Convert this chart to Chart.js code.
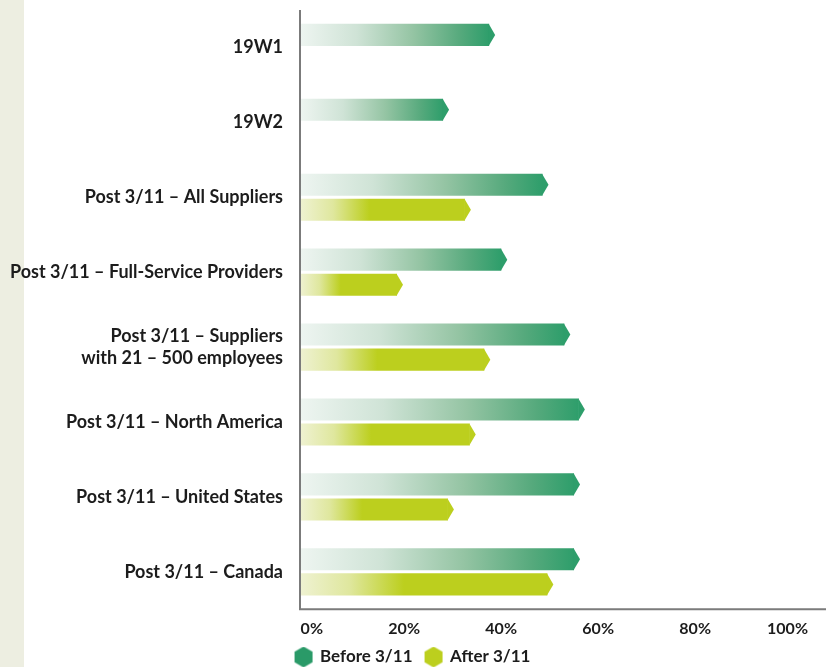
<!DOCTYPE html>
<html>
<head>
<meta charset="utf-8">
<script src="https://cdn.jsdelivr.net/npm/chart.js@4.4.1/dist/chart.umd.min.js"></script>
<style>
  html, body { margin: 0; padding: 0; }
  body { background: linear-gradient(to right, #edeee1 0, #edeee1 24px, #ffffff 24px); }
  #wrap { width: 826px; height: 667px; position: relative; }
</style>
</head>
<body>
<div id="wrap"><canvas id="myChart"></canvas></div>
<script>
const ctx = document.getElementById('myChart');

// data
const categorias = [
  '19W1',
  '19W2',
  'Post 3/11 – All Suppliers',
  'Post 3/11 – Full-Service Providers',
  ['Post 3/11 – Suppliers', 'with 21 – 500 employees'],
  'Post 3/11 – North America',
  'Post 3/11 – United States',
  'Post 3/11 – Canada'
]
const antes = [39, 29.5, 50, 41.5, 54.5, 57.5, 56.5, 56.5]
const despues = [null, null, 34, 20, 38, 35, 30.5, 51]
const ticksX = [0, 20, 40, 60, 80, 100]

const verde = '#2e9e6b'
const amarillo = '#bccf1e'
const fuente = "'Lato', 'Liberation Sans', sans-serif"

// hexagon used as legend marker
function hexagono(color){
  const c = document.createElement('canvas')
  c.width = 20
  c.height = 21
  const g = c.getContext('2d')
  g.fillStyle = color
  g.beginPath()
  for (let i = 0; i < 6; i++) {
    const a = Math.PI / 180 * (60 * i - 90)
    const px = 10 + 10.4 * Math.cos(a)
    const py = 10.5 + 10.4 * Math.sin(a)
    if (i === 0) g.moveTo(px, py); else g.lineTo(px, py)
  }
  g.closePath()
  g.fill()
  return c
}

function degradado(context, stops, solido){
  const chart = context.chart
  if (!chart.chartArea || context.raw == null) return solido
  const x0 = chart.scales.x.getPixelForValue(0)
  const x1 = chart.scales.x.getPixelForValue(context.raw)
  if (x1 - x0 < 1) return solido
  const gr = chart.ctx.createLinearGradient(x0, 0, x1, 0)
  for (const s of stops) gr.addColorStop(s[0], s[1])
  return gr
}

const stopsVerde = [[0, '#eef5f1'], [0.3, '#cfe3d6'], [0.6, '#94c4a3'], [0.85, '#55a97c'], [1, verde]]
const stopsAmarillo = [[0, '#eff2d2'], [0.2, '#dfe79e'], [0.42, amarillo], [1, amarillo]]

// arrow tips + axis lines
const puntas = {
  id: 'puntas',
  afterDatasetsDraw(chart){
    const c = chart.ctx
    chart.data.datasets.forEach(function(ds, i){
      const meta = chart.getDatasetMeta(i)
      meta.data.forEach(function(bar, j){
        if (ds.data[j] == null) return
        const h = bar.height / 2
        c.save()
        c.fillStyle = ds.tipColor
        c.beginPath()
        c.moveTo(bar.x - 0.5, bar.y - h)
        c.lineTo(bar.x + 6, bar.y)
        c.lineTo(bar.x - 0.5, bar.y + h)
        c.closePath()
        c.fill()
        c.restore()
      })
    })
    const a = chart.chartArea
    c.save()
    c.strokeStyle = '#7b7b7b'
    c.lineWidth = 2
    c.beginPath()
    c.moveTo(a.left, a.top)
    c.lineTo(a.left, a.bottom)
    c.lineTo(a.right, a.bottom)
    c.stroke()
    c.restore()
  }
}

new Chart(ctx, {
  type: 'bar',
  data: {
    labels: categorias,
    datasets: [{
      label: 'Before 3/11',
      data: antes,
      tipColor: verde,
      backgroundColor: function(context){ return degradado(context, stopsVerde, verde) },
      pointStyle: hexagono('#2a9a68'),
      barPercentage: 0.88,
      categoryPercentage: 0.67
    }, {
      label: 'After 3/11',
      data: despues,
      tipColor: amarillo,
      backgroundColor: function(context){ return degradado(context, stopsAmarillo, amarillo) },
      pointStyle: hexagono(amarillo),
      barPercentage: 0.88,
      categoryPercentage: 0.67
    }]
  },
  options: {
    indexAxis: 'y',
    responsive: true,
    maintainAspectRatio: false,
    animation: false,
    layout: { padding: { top: 10, right: 0, bottom: -8.5, left: 0 } },
    scales: {
      x: {
        min: 0,
        max: 108.45,
        afterBuildTicks(scale){ scale.ticks = ticksX.map(v => ({ value: v })) },
        afterFit(scale){ scale.paddingLeft = 0; scale.paddingRight = 0; scale.height = 26.2 },
        grid: { display: false, drawTicks: false },
        border: { display: false },
        ticks: {
          align: 'end',
          labelOffset: 23,
          padding: 9.5,
          color: '#1c1c1c',
          font: { family: fuente, size: 16, weight: 'bold' },
          callback: v => v + '%'
        }
      },
      y: {
        grid: { display: false, drawTicks: false },
        border: { display: false },
        afterFit(scale){ scale.width = 300; scale.paddingTop = 0; scale.paddingBottom = 0 },
        ticks: {
          padding: 17,
          color: '#1c1c1c',
          font: { family: fuente, size: 18, weight: 'bold', lineHeight: 1.22 }
        }
      }
    },
    plugins: {
      legend: {
        position: 'bottom',
        labels: {
          usePointStyle: true,
          pointStyleWidth: 16,
          padding: 13,
          color: '#1c1c1c',
          font: { family: fuente, size: 17, weight: 'bold' }
        }
      },
      tooltip: { enabled: false }
    }
  },
  plugins: [puntas]
});
</script>
</body>
</html>
